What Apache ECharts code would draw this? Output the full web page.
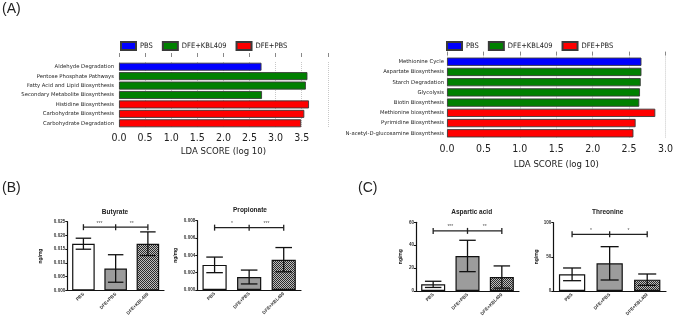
<!DOCTYPE html>
<html>
<head>
<meta charset="utf-8">
<script src="https://cdn.jsdelivr.net/npm/echarts@6/dist/echarts.min.js"></script>
<style>
  html, body { margin: 0; padding: 0; background: #fff; }
  #chart { width: 676px; height: 322px; }
</style>
</head>
<body>
<div id="chart"></div>
<script>
// ---- data (A): LEfSe LDA scores ----
const ldaGroups = ["PBS", "DFE+KBL409", "DFE+PBS"];
const ldaColors = ["#0000ff", "#008000", "#ff0000"];

const leftCats = [
  "Aldehyde Degradation",
  "Pentose Phosphate Pathways",
  "Fatty Acid and Lipid Biosynthesis",
  "Secondary Metabolite Biosynthesis",
  "Histidine Biosynthesis",
  "Carbohydrate Biosynthesis",
  "Carbohydrate Degradation",
];
const leftLda = [2.73, 3.61, 3.58, 2.74, 3.64, 3.55, 3.49];
const leftGroup = ["PBS", "DFE+KBL409", "DFE+KBL409", "DFE+KBL409", "DFE+PBS", "DFE+PBS", "DFE+PBS"];

const rightCats = [
  "Methionine Cycle",
  "Aspartate Biosynthesis",
  "Starch Degradation",
  "Glycolysis",
  "Biotin Biosynthesis",
  "Methionine biosynthesis",
  "Pyrimidine Biosynthesis",
  "N-acetyl-D-glucosamine Biosynthesis",
];
const rightLda = [2.67, 2.67, 2.66, 2.65, 2.64, 2.86, 2.59, 2.56];
const rightGroup = ["PBS", "DFE+KBL409", "DFE+KBL409", "DFE+KBL409", "DFE+KBL409", "DFE+PBS", "DFE+PBS", "DFE+PBS"];

// ---- data (B) / (C): metabolites, mean and error ----
const groups = ["PBS", "DFE+PBS", "DFE+KBL409"];

const butyrateMean = [0.0170, 0.0080, 0.0170];
const butyrateErr = [0.0020, 0.0050, 0.0043];
const butyrateStars = ["***", "**"];

const propionateMean = [0.0029, 0.0015, 0.0035];
const propionateErr = [0.0009, 0.0008, 0.0014];
const propionateStars = ["*", "***"];

const asparticMean = [5.8, 30.6, 12.2];
const asparticErr = [2.7, 13.7, 9.7];
const asparticStars = ["***", "**"];

const threonineMean = [24.4, 40.5, 16.6];
const threonineErr = [9.3, 24.4, 8.3];
const threonineStars = ["*", "*"];

// ---- styles ----
const condensed = "DejaVu Sans Condensed, Liberation Sans Narrow, DejaVu Sans";
const prism = "Liberation Sans, Arial";

// checkered fill for DFE+KBL409 bars
const patCanvas = document.createElement("canvas");
patCanvas.width = 2;
patCanvas.height = 2;
const pctx = patCanvas.getContext("2d");
pctx.fillStyle = "#bdbdbd";
pctx.fillRect(0, 0, 2, 2);
pctx.fillStyle = "#2a2a2a";
pctx.fillRect(0, 0, 1, 1);
pctx.fillRect(1, 1, 1, 1);
const barFills = ["#ffffff", "#9c9c9c", { image: patCanvas, repeat: "repeat" }];

const grid = [];
const xAxis = [];
const yAxis = [];
const series = [];
const titles = [];

// ---- panel A charts ----
function ldaPanel(cats, vals, grp, g, xMax, labelMargin, topOffset, catGap, stack, nameGap) {
  const gi = grid.length;
  grid.push(g);
  const xi = xAxis.length;
  xAxis.push({
    type: "value", gridIndex: gi, min: 0, max: xMax, interval: 0.5,
    axisLine: { show: false }, axisTick: { show: false },
    axisLabel: {
      fontFamily: condensed, fontSize: 10.5, color: "#222", margin: 5,
      formatter: (v) => (v > 3.6 && xMax > 3.6 ? "" : v.toFixed(1)),
    },
    splitLine: { show: true, lineStyle: { type: "dotted", color: "#c8c8c8", width: 1 } },
    name: "LDA SCORE (log 10)", nameLocation: "middle", nameGap: nameGap,
    nameTextStyle: { fontFamily: condensed, fontSize: 9.5, color: "#222" },
  });
  xAxis.push({
    type: "value", gridIndex: gi, min: 0, max: xMax, interval: 0.5, position: "top", offset: topOffset,
    axisLine: { show: false }, axisTick: { show: true, length: 4, lineStyle: { color: "#888" } },
    axisLabel: { show: false }, splitLine: { show: false },
  });
  const yi = yAxis.length;
  yAxis.push({
    type: "category", gridIndex: gi, data: cats, inverse: true,
    axisLine: { show: false }, axisTick: { show: false },
    axisLabel: { fontFamily: "DejaVu Sans", fontSize: 5.3, color: "#222", margin: labelMargin },
  });
  ldaGroups.forEach((name, k) => {
    series.push({
      name: name, type: "bar", stack: stack, xAxisIndex: xi, yAxisIndex: yi,
      barCategoryGap: catGap,
      itemStyle: { color: ldaColors[k], borderColor: "#3a3a3a", borderWidth: 0.9 },
      data: vals.map((v, i) => (grp[i] === name ? v : "-")),
    });
  });
}

ldaPanel(leftCats, leftLda, leftGroup,
  { left: 119, right: 676 - 327.8, top: 62, bottom: 322 - 128 }, 4, 5, 5, "15%", "L", 19);
ldaPanel(rightCats, rightLda, rightGroup,
  { left: 447, right: 676 - 668.3, top: 56.6, bottom: 322 - 138.4 }, 3, 3, 1, "19%", "R", 21.5);

// ---- panels B / C: bar + error bar + significance bracket ----
function metPanel(title, titleX, titleY, means, errs, stars, bracketY, g, yMax, yInterval, decimals, nameGap) {
  const gi = grid.length;
  grid.push(g);
  const xi = xAxis.length;
  xAxis.push({
    type: "category", gridIndex: gi, data: groups,
    axisLine: { lineStyle: { color: "#111", width: 1.2 } },
    axisTick: { alignWithLabel: true, length: 2, lineStyle: { color: "#111" } },
    axisLabel: { rotate: 45, fontFamily: prism, fontSize: 4.6, fontWeight: "bold", color: "#333", margin: 3 },
  });
  const yi = yAxis.length;
  yAxis.push({
    type: "value", gridIndex: gi, min: 0, max: yMax, interval: yInterval,
    axisLine: { show: true, lineStyle: { color: "#111", width: 1.2 } },
    axisTick: { show: true, length: 2, lineStyle: { color: "#111" } },
    axisLabel: { fontFamily: prism, fontSize: 4.6, fontWeight: "bold", color: "#333", margin: 2,
      formatter: (v) => v.toFixed(decimals) },
    splitLine: { show: false },
    name: "ng/mg", nameLocation: "middle", nameGap: nameGap,
    nameTextStyle: { fontFamily: prism, fontSize: 5, fontWeight: "bold", color: "#222" },
  });
  series.push({
    type: "bar", xAxisIndex: xi, yAxisIndex: yi, barWidth: "70%",
    data: means.map((m, i) => ({ value: m, itemStyle: { color: barFills[i] } })),
    itemStyle: { borderColor: "#111", borderWidth: 1.2 },
  });
  series.push({
    type: "custom", xAxisIndex: xi, yAxisIndex: yi, z: 5,
    data: means.map((m, i) => [i, m - errs[i], m + errs[i]]),
    renderItem: function (params, api) {
      const x = api.value(0);
      const lo = api.coord([x, api.value(1)]);
      const hi = api.coord([x, api.value(2)]);
      const half = api.size([1, 0])[0] * 0.24;
      const st = { stroke: "#111", lineWidth: 1.3 };
      return {
        type: "group",
        children: [
          { type: "line", shape: { x1: lo[0], y1: lo[1], x2: hi[0], y2: hi[1] }, style: st },
          { type: "line", shape: { x1: lo[0] - half, y1: lo[1], x2: lo[0] + half, y2: lo[1] }, style: st },
          { type: "line", shape: { x1: hi[0] - half, y1: hi[1], x2: hi[0] + half, y2: hi[1] }, style: st },
        ],
      };
    },
  });
  series.push({
    type: "custom", xAxisIndex: xi, yAxisIndex: yi, z: 5,
    data: [[0, bracketY, 2]],
    renderItem: function (params, api) {
      const y = api.value(1);
      const a = api.coord([0, y]);
      const b = api.coord([1, y]);
      const c = api.coord([2, y]);
      const st = { stroke: "#222", lineWidth: 1.3 };
      const tick = (p) => ({ type: "line", shape: { x1: p[0], y1: p[1] - 3, x2: p[0], y2: p[1] + 3 }, style: st });
      const star = (p, q, s) => ({
        type: "text",
        style: { text: s, x: (p[0] + q[0]) / 2, y: p[1] - 1.5, align: "center", verticalAlign: "bottom",
          fontFamily: prism, fontSize: 5, fill: "#555" },
      });
      return {
        type: "group",
        children: [
          { type: "line", shape: { x1: a[0], y1: a[1], x2: c[0], y2: c[1] }, style: st },
          tick(a), tick(b), tick(c),
          star(a, b, stars[0]), star(b, c, stars[1]),
        ],
      };
    },
  });
  titles.push({
    type: "text", x: titleX, y: titleY,
    style: { text: title, fontFamily: prism, fontSize: 6.5, fontWeight: "bold", fill: "#222",
      align: "center", verticalAlign: "middle" },
  });
}

metPanel("Butyrate", 115, 212.7, butyrateMean, butyrateErr, butyrateStars, 0.023,
  { left: 67.3, right: 676 - 164, top: 221.7, bottom: 322 - 290.5 }, 0.025, 0.005, 3, 24);
metPanel("Propionate", 250, 210.7, propionateMean, propionateErr, propionateStars, 0.0072,
  { left: 197.3, right: 676 - 301, top: 220.7, bottom: 322 - 290 }, 0.008, 0.002, 3, 19);
metPanel("Aspartic acid", 471.7, 212.7, asparticMean, asparticErr, asparticStars, 52.5,
  { left: 416, right: 676 - 519, top: 222.3, bottom: 322 - 291 }, 60, 20, 0, 13);
metPanel("Threonine", 607.7, 212.7, threonineMean, threonineErr, threonineStars, 83,
  { left: 553.3, right: 676 - 666, top: 222.7, bottom: 322 - 291 }, 100, 50, 0, 14);

const panelLabel = (s, x, y) => ({
  type: "text", x: x, y: y,
  style: { text: s, fontFamily: prism, fontSize: 14, fill: "#222", align: "left", verticalAlign: "middle" },
});
titles.push(panelLabel("(A)", 2, 9), panelLabel("(B)", 2, 188), panelLabel("(C)", 358, 188));

const legendCommon = {
  data: ldaGroups, icon: "rect", itemWidth: 15, itemHeight: 8, itemGap: 9, top: 41, padding: 0,
  selectedMode: false,
  textStyle: { fontFamily: condensed, fontSize: 7.5, color: "#222", padding: [0, 0, 0, -1] },
};

const myChart = echarts.init(document.getElementById("chart"), null, { renderer: "canvas" });
myChart.setOption({
  animation: false,
  backgroundColor: "#ffffff",
  textStyle: { fontFamily: prism },
  legend: [
    Object.assign({}, legendCommon, { left: 120 }),
    Object.assign({}, legendCommon, { left: 446 }),
  ],
  grid: grid,
  xAxis: xAxis,
  yAxis: yAxis,
  series: series,
  graphic: titles,
});
</script>
</body>
</html>
